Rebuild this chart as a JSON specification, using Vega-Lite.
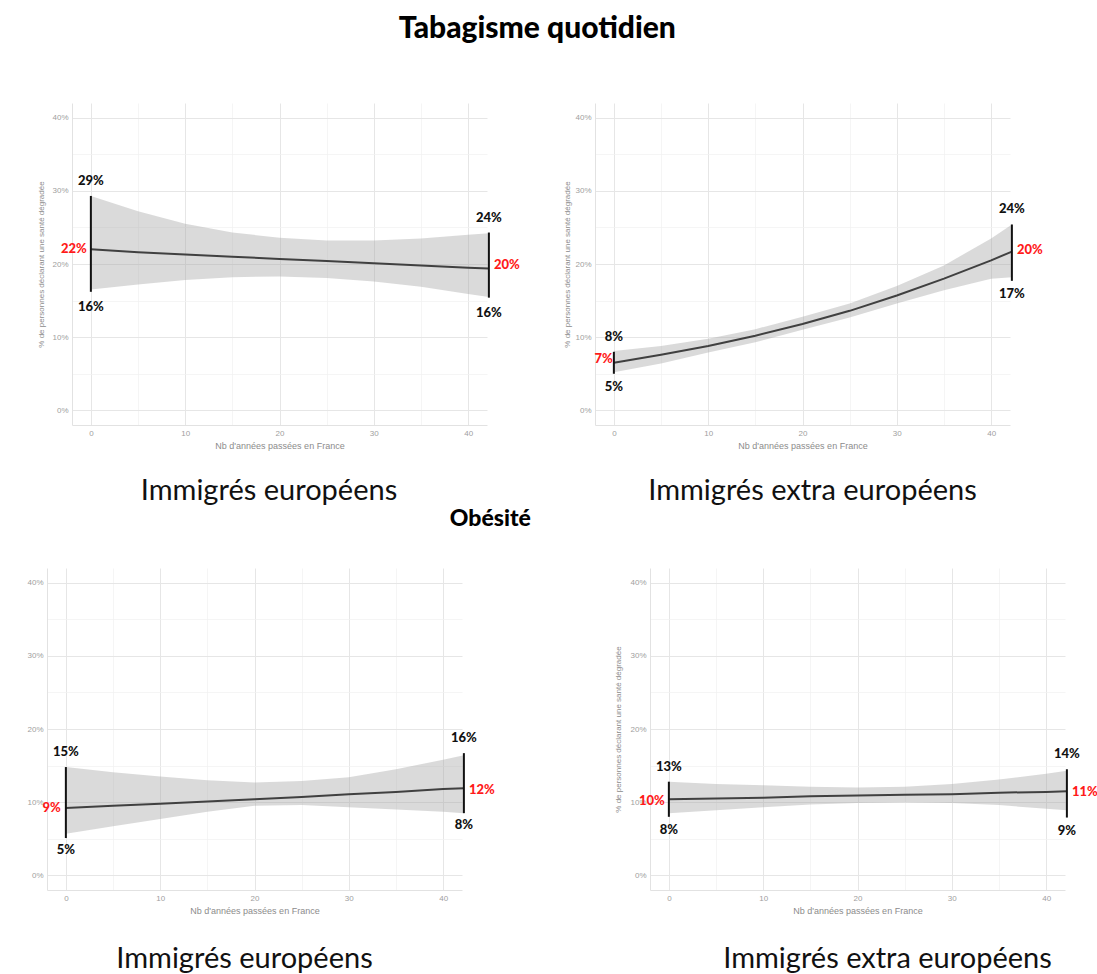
{
  "$schema": "https://vega.github.io/schema/vega-lite/v6.json",
  "background": "white",
  "padding": {"left": 26, "top": 14, "right": 4, "bottom": 4},
  "autosize": {"type": "pad"},
  "title": {"text": "Tabagisme quotidien", "anchor": "middle", "dx": -25, "font": "Lato", "fontSize": 30, "fontWeight": 900, "color": "#000000", "offset": 59},
  "config": {
    "view": {"stroke": null},
    "axis": {"domainColor": "#e2e2e2", "ticks": false, "labelFont": "Liberation Sans", "labelFontSize": 8, "labelColor": "#a0a0a0", "titleFont": "Liberation Sans", "titleFontWeight": "normal", "titleColor": "#8c8c8c", "labelPadding": 4}
  },
  "datasets": {
    "curves": [
      {"panel": "tab_eu", "x": 0, "fit": 22.0, "lo": 16.5, "hi": 29.3},
      {"panel": "tab_eu", "x": 5, "fit": 21.6, "lo": 17.2, "hi": 27.2},
      {"panel": "tab_eu", "x": 10, "fit": 21.3, "lo": 17.8, "hi": 25.5},
      {"panel": "tab_eu", "x": 15, "fit": 21.0, "lo": 18.2, "hi": 24.3},
      {"panel": "tab_eu", "x": 20, "fit": 20.7, "lo": 18.3, "hi": 23.6},
      {"panel": "tab_eu", "x": 25, "fit": 20.4, "lo": 18.1, "hi": 23.2},
      {"panel": "tab_eu", "x": 30, "fit": 20.1, "lo": 17.6, "hi": 23.2},
      {"panel": "tab_eu", "x": 35, "fit": 19.8, "lo": 16.9, "hi": 23.5},
      {"panel": "tab_eu", "x": 40, "fit": 19.5, "lo": 15.9, "hi": 24.0},
      {"panel": "tab_eu", "x": 42.2, "fit": 19.4, "lo": 15.5, "hi": 24.2},
      {"panel": "tab_ext", "x": 0, "fit": 6.5, "lo": 5.2, "hi": 8.1},
      {"panel": "tab_ext", "x": 5, "fit": 7.6, "lo": 6.4, "hi": 8.8},
      {"panel": "tab_ext", "x": 10, "fit": 8.8, "lo": 7.9, "hi": 9.8},
      {"panel": "tab_ext", "x": 15, "fit": 10.2, "lo": 9.3, "hi": 11.1},
      {"panel": "tab_ext", "x": 20, "fit": 11.8, "lo": 11.0, "hi": 12.8},
      {"panel": "tab_ext", "x": 25, "fit": 13.6, "lo": 12.7, "hi": 14.6},
      {"panel": "tab_ext", "x": 30, "fit": 15.7, "lo": 14.6, "hi": 17.0},
      {"panel": "tab_ext", "x": 35, "fit": 18.0, "lo": 16.4, "hi": 19.8},
      {"panel": "tab_ext", "x": 40, "fit": 20.5, "lo": 18.0, "hi": 23.5},
      {"panel": "tab_ext", "x": 42.2, "fit": 21.7, "lo": 18.2, "hi": 25.4},
      {"panel": "ob_eu", "x": 0, "fit": 9.2, "lo": 5.7, "hi": 14.8},
      {"panel": "ob_eu", "x": 5, "fit": 9.5, "lo": 6.7, "hi": 14.1},
      {"panel": "ob_eu", "x": 10, "fit": 9.8, "lo": 7.7, "hi": 13.5},
      {"panel": "ob_eu", "x": 15, "fit": 10.1, "lo": 8.7, "hi": 13.0},
      {"panel": "ob_eu", "x": 20, "fit": 10.4, "lo": 9.5, "hi": 12.7},
      {"panel": "ob_eu", "x": 25, "fit": 10.7, "lo": 9.6, "hi": 12.9},
      {"panel": "ob_eu", "x": 30, "fit": 11.1, "lo": 9.3, "hi": 13.4},
      {"panel": "ob_eu", "x": 35, "fit": 11.4, "lo": 9.0, "hi": 14.5},
      {"panel": "ob_eu", "x": 40, "fit": 11.8, "lo": 8.7, "hi": 15.8},
      {"panel": "ob_eu", "x": 42.2, "fit": 11.9, "lo": 8.5, "hi": 16.4},
      {"panel": "ob_ext", "x": 0, "fit": 10.4, "lo": 8.5, "hi": 12.8},
      {"panel": "ob_ext", "x": 5, "fit": 10.5, "lo": 8.9, "hi": 12.5},
      {"panel": "ob_ext", "x": 10, "fit": 10.6, "lo": 9.3, "hi": 12.3},
      {"panel": "ob_ext", "x": 15, "fit": 10.8, "lo": 9.7, "hi": 12.1},
      {"panel": "ob_ext", "x": 20, "fit": 10.9, "lo": 9.9, "hi": 12.0},
      {"panel": "ob_ext", "x": 25, "fit": 11.0, "lo": 10.0, "hi": 12.1},
      {"panel": "ob_ext", "x": 30, "fit": 11.1, "lo": 9.9, "hi": 12.5},
      {"panel": "ob_ext", "x": 35, "fit": 11.3, "lo": 9.6, "hi": 13.1},
      {"panel": "ob_ext", "x": 40, "fit": 11.4, "lo": 9.1, "hi": 13.9},
      {"panel": "ob_ext", "x": 42.2, "fit": 11.5, "lo": 8.9, "hi": 14.3}
    ],
    "ends": [
      {"panel": "tab_eu", "side": "L", "x": 0, "blo": 16.2, "bhi": 29.3, "mid": 22.0, "tlo": "16%", "thi": "29%", "tmid": "22%"},
      {"panel": "tab_eu", "side": "R", "x": 42.2, "blo": 15.4, "bhi": 24.3, "mid": 19.8, "tlo": "16%", "thi": "24%", "tmid": "20%"},
      {"panel": "tab_ext", "side": "L", "x": 0, "blo": 5.0, "bhi": 8.0, "mid": 7.0, "tlo": "5%", "thi": "8%", "tmid": "7%"},
      {"panel": "tab_ext", "side": "R", "x": 42.2, "blo": 17.7, "bhi": 25.4, "mid": 21.9, "tlo": "17%", "thi": "24%", "tmid": "20%"},
      {"panel": "ob_eu", "side": "L", "x": 0, "blo": 5.1, "bhi": 14.8, "mid": 9.2, "tlo": "5%", "thi": "15%", "tmid": "9%"},
      {"panel": "ob_eu", "side": "R", "x": 42.2, "blo": 8.5, "bhi": 16.7, "mid": 11.7, "tlo": "8%", "thi": "16%", "tmid": "12%"},
      {"panel": "ob_ext", "side": "L", "x": 0, "blo": 8.0, "bhi": 12.8, "mid": 10.2, "tlo": "8%", "thi": "13%", "tmid": "10%"},
      {"panel": "ob_ext", "side": "R", "x": 42.2, "blo": 7.9, "bhi": 14.5, "mid": 11.4, "tlo": "9%", "thi": "14%", "tmid": "11%"}
    ]
  },
  "columns": 1,
  "spacing": 2,
  "concat": [
    {
      "spacing": 43,
      "hconcat": [
        {
          "width": 440, "height": 322,
          "title": {"text": "Immigrés européens", "orient": "bottom", "anchor": "middle", "dx": 2, "offset": 27, "font": "Lato", "fontSize": 29, "fontWeight": "normal", "color": "#111111"},
          "encoding": {"x": {"field": "x", "type": "quantitative", "scale": {"domain": [-2, 42], "range": [25, 440], "nice": false, "zero": false}, "axis": {"values": [0, 5, 10, 15, 20, 25, 30, 35, 40], "labelExpr": "datum.value % 10 === 0 ? datum.label : ''", "title": "Nb d'années passées en France", "titleFontSize": 9, "titlePadding": 4, "gridColor": {"condition": {"test": "datum.value % 10 === 0", "value": "#e6e6e6"}, "value": "#f1f1f1"}, "gridWidth": {"condition": {"test": "datum.value % 10 === 0", "value": 1}, "value": 0.7}}}},
          "layer": [
            {"data": {"name": "curves"}, "transform": [{"filter": "datum.panel === 'tab_eu'"}], "mark": {"type": "area", "color": "#a3a3a3", "opacity": 0.4}, "encoding": {"y": {"field": "lo", "type": "quantitative", "scale": {"domain": [-2, 42], "nice": false, "zero": false}, "axis": {"offset": -25, "values": [0, 5, 10, 15, 20, 25, 30, 35, 40], "labelExpr": "datum.value % 10 === 0 ? datum.value + '%' : ''", "title": "% de personnes déclarant une santé dégradée", "titleFontSize": 8, "titlePadding": 6, "gridColor": {"condition": {"test": "datum.value % 10 === 0", "value": "#e6e6e6"}, "value": "#f1f1f1"}, "gridWidth": {"condition": {"test": "datum.value % 10 === 0", "value": 1}, "value": 0.7}}}, "y2": {"field": "hi"}}},
            {"data": {"name": "curves"}, "transform": [{"filter": "datum.panel === 'tab_eu'"}], "mark": {"type": "line", "color": "#404040", "strokeWidth": 2}, "encoding": {"y": {"field": "fit", "type": "quantitative", "scale": {"domain": [-2, 42], "nice": false, "zero": false}, "axis": {"offset": -25, "values": [0, 5, 10, 15, 20, 25, 30, 35, 40], "labelExpr": "datum.value % 10 === 0 ? datum.value + '%' : ''", "title": "% de personnes déclarant une santé dégradée", "titleFontSize": 8, "titlePadding": 6, "gridColor": {"condition": {"test": "datum.value % 10 === 0", "value": "#e6e6e6"}, "value": "#f1f1f1"}, "gridWidth": {"condition": {"test": "datum.value % 10 === 0", "value": 1}, "value": 0.7}}}}},
            {"data": {"name": "ends"}, "transform": [{"filter": "datum.panel === 'tab_eu'"}], "mark": {"type": "rule", "color": "#111111", "strokeWidth": 2}, "encoding": {"y": {"field": "blo", "type": "quantitative", "scale": {"domain": [-2, 42], "nice": false, "zero": false}, "axis": {"offset": -25, "values": [0, 5, 10, 15, 20, 25, 30, 35, 40], "labelExpr": "datum.value % 10 === 0 ? datum.value + '%' : ''", "title": "% de personnes déclarant une santé dégradée", "titleFontSize": 8, "titlePadding": 6, "gridColor": {"condition": {"test": "datum.value % 10 === 0", "value": "#e6e6e6"}, "value": "#f1f1f1"}, "gridWidth": {"condition": {"test": "datum.value % 10 === 0", "value": 1}, "value": 0.7}}}, "y2": {"field": "bhi"}}},
            {"data": {"name": "ends"}, "transform": [{"filter": "datum.panel === 'tab_eu'"}], "mark": {"type": "text", "dy": -15, "font": "Lato", "fontSize": 13, "fontWeight": 900, "color": "#111111"}, "encoding": {"y": {"field": "bhi", "type": "quantitative", "scale": {"domain": [-2, 42], "nice": false, "zero": false}, "axis": {"offset": -25, "values": [0, 5, 10, 15, 20, 25, 30, 35, 40], "labelExpr": "datum.value % 10 === 0 ? datum.value + '%' : ''", "title": "% de personnes déclarant une santé dégradée", "titleFontSize": 8, "titlePadding": 6, "gridColor": {"condition": {"test": "datum.value % 10 === 0", "value": "#e6e6e6"}, "value": "#f1f1f1"}, "gridWidth": {"condition": {"test": "datum.value % 10 === 0", "value": 1}, "value": 0.7}}}, "text": {"field": "thi"}}},
            {"data": {"name": "ends"}, "transform": [{"filter": "datum.panel === 'tab_eu'"}], "mark": {"type": "text", "dy": 15, "font": "Lato", "fontSize": 13, "fontWeight": 900, "color": "#111111"}, "encoding": {"y": {"field": "blo", "type": "quantitative", "scale": {"domain": [-2, 42], "nice": false, "zero": false}, "axis": {"offset": -25, "values": [0, 5, 10, 15, 20, 25, 30, 35, 40], "labelExpr": "datum.value % 10 === 0 ? datum.value + '%' : ''", "title": "% de personnes déclarant une santé dégradée", "titleFontSize": 8, "titlePadding": 6, "gridColor": {"condition": {"test": "datum.value % 10 === 0", "value": "#e6e6e6"}, "value": "#f1f1f1"}, "gridWidth": {"condition": {"test": "datum.value % 10 === 0", "value": 1}, "value": 0.7}}}, "text": {"field": "tlo"}}},
            {"data": {"name": "ends"}, "transform": [{"filter": "datum.panel === 'tab_eu' && datum.side === 'L'"}], "mark": {"type": "text", "align": "right", "dx": -4, "font": "Lato", "fontSize": 13, "fontWeight": 900, "color": "#ff1a1a"}, "encoding": {"y": {"field": "mid", "type": "quantitative", "scale": {"domain": [-2, 42], "nice": false, "zero": false}, "axis": {"offset": -25, "values": [0, 5, 10, 15, 20, 25, 30, 35, 40], "labelExpr": "datum.value % 10 === 0 ? datum.value + '%' : ''", "title": "% de personnes déclarant une santé dégradée", "titleFontSize": 8, "titlePadding": 6, "gridColor": {"condition": {"test": "datum.value % 10 === 0", "value": "#e6e6e6"}, "value": "#f1f1f1"}, "gridWidth": {"condition": {"test": "datum.value % 10 === 0", "value": 1}, "value": 0.7}}}, "text": {"field": "tmid"}}},
            {"data": {"name": "ends"}, "transform": [{"filter": "datum.panel === 'tab_eu' && datum.side === 'R'"}], "mark": {"type": "text", "align": "left", "dx": 5, "font": "Lato", "fontSize": 13, "fontWeight": 900, "color": "#ff1a1a"}, "encoding": {"y": {"field": "mid", "type": "quantitative", "scale": {"domain": [-2, 42], "nice": false, "zero": false}, "axis": {"offset": -25, "values": [0, 5, 10, 15, 20, 25, 30, 35, 40], "labelExpr": "datum.value % 10 === 0 ? datum.value + '%' : ''", "title": "% de personnes déclarant une santé dégradée", "titleFontSize": 8, "titlePadding": 6, "gridColor": {"condition": {"test": "datum.value % 10 === 0", "value": "#e6e6e6"}, "value": "#f1f1f1"}, "gridWidth": {"condition": {"test": "datum.value % 10 === 0", "value": 1}, "value": 0.7}}}, "text": {"field": "tmid"}}}
          ]
        },
        {
          "width": 415, "height": 322,
          "title": {"text": "Immigrés extra européens", "orient": "bottom", "anchor": "middle", "dx": 10, "offset": 27, "font": "Lato", "fontSize": 29, "fontWeight": "normal", "color": "#111111"},
          "encoding": {"x": {"field": "x", "type": "quantitative", "scale": {"domain": [-2, 42], "nice": false, "zero": false}, "axis": {"values": [0, 5, 10, 15, 20, 25, 30, 35, 40], "labelExpr": "datum.value % 10 === 0 ? datum.label : ''", "title": "Nb d'années passées en France", "titleFontSize": 9, "titlePadding": 4, "gridColor": {"condition": {"test": "datum.value % 10 === 0", "value": "#e6e6e6"}, "value": "#f1f1f1"}, "gridWidth": {"condition": {"test": "datum.value % 10 === 0", "value": 1}, "value": 0.7}}}},
          "layer": [
            {"data": {"name": "curves"}, "transform": [{"filter": "datum.panel === 'tab_ext'"}], "mark": {"type": "area", "color": "#a3a3a3", "opacity": 0.4}, "encoding": {"y": {"field": "lo", "type": "quantitative", "scale": {"domain": [-2, 42], "nice": false, "zero": false}, "axis": {"values": [0, 5, 10, 15, 20, 25, 30, 35, 40], "labelExpr": "datum.value % 10 === 0 ? datum.value + '%' : ''", "title": "% de personnes déclarant une santé dégradée", "titleFontSize": 8, "titlePadding": 3, "gridColor": {"condition": {"test": "datum.value % 10 === 0", "value": "#e6e6e6"}, "value": "#f1f1f1"}, "gridWidth": {"condition": {"test": "datum.value % 10 === 0", "value": 1}, "value": 0.7}}}, "y2": {"field": "hi"}}},
            {"data": {"name": "curves"}, "transform": [{"filter": "datum.panel === 'tab_ext'"}], "mark": {"type": "line", "color": "#404040", "strokeWidth": 2}, "encoding": {"y": {"field": "fit", "type": "quantitative", "scale": {"domain": [-2, 42], "nice": false, "zero": false}, "axis": {"values": [0, 5, 10, 15, 20, 25, 30, 35, 40], "labelExpr": "datum.value % 10 === 0 ? datum.value + '%' : ''", "title": "% de personnes déclarant une santé dégradée", "titleFontSize": 8, "titlePadding": 3, "gridColor": {"condition": {"test": "datum.value % 10 === 0", "value": "#e6e6e6"}, "value": "#f1f1f1"}, "gridWidth": {"condition": {"test": "datum.value % 10 === 0", "value": 1}, "value": 0.7}}}}},
            {"data": {"name": "ends"}, "transform": [{"filter": "datum.panel === 'tab_ext'"}], "mark": {"type": "rule", "color": "#111111", "strokeWidth": 2}, "encoding": {"y": {"field": "blo", "type": "quantitative", "scale": {"domain": [-2, 42], "nice": false, "zero": false}, "axis": {"values": [0, 5, 10, 15, 20, 25, 30, 35, 40], "labelExpr": "datum.value % 10 === 0 ? datum.value + '%' : ''", "title": "% de personnes déclarant une santé dégradée", "titleFontSize": 8, "titlePadding": 3, "gridColor": {"condition": {"test": "datum.value % 10 === 0", "value": "#e6e6e6"}, "value": "#f1f1f1"}, "gridWidth": {"condition": {"test": "datum.value % 10 === 0", "value": 1}, "value": 0.7}}}, "y2": {"field": "bhi"}}},
            {"data": {"name": "ends"}, "transform": [{"filter": "datum.panel === 'tab_ext'"}], "mark": {"type": "text", "dy": -15, "font": "Lato", "fontSize": 13, "fontWeight": 900, "color": "#111111"}, "encoding": {"y": {"field": "bhi", "type": "quantitative", "scale": {"domain": [-2, 42], "nice": false, "zero": false}, "axis": {"values": [0, 5, 10, 15, 20, 25, 30, 35, 40], "labelExpr": "datum.value % 10 === 0 ? datum.value + '%' : ''", "title": "% de personnes déclarant une santé dégradée", "titleFontSize": 8, "titlePadding": 3, "gridColor": {"condition": {"test": "datum.value % 10 === 0", "value": "#e6e6e6"}, "value": "#f1f1f1"}, "gridWidth": {"condition": {"test": "datum.value % 10 === 0", "value": 1}, "value": 0.7}}}, "text": {"field": "thi"}}},
            {"data": {"name": "ends"}, "transform": [{"filter": "datum.panel === 'tab_ext'"}], "mark": {"type": "text", "dy": 13, "font": "Lato", "fontSize": 13, "fontWeight": 900, "color": "#111111"}, "encoding": {"y": {"field": "blo", "type": "quantitative", "scale": {"domain": [-2, 42], "nice": false, "zero": false}, "axis": {"values": [0, 5, 10, 15, 20, 25, 30, 35, 40], "labelExpr": "datum.value % 10 === 0 ? datum.value + '%' : ''", "title": "% de personnes déclarant une santé dégradée", "titleFontSize": 8, "titlePadding": 3, "gridColor": {"condition": {"test": "datum.value % 10 === 0", "value": "#e6e6e6"}, "value": "#f1f1f1"}, "gridWidth": {"condition": {"test": "datum.value % 10 === 0", "value": 1}, "value": 0.7}}}, "text": {"field": "tlo"}}},
            {"data": {"name": "ends"}, "transform": [{"filter": "datum.panel === 'tab_ext' && datum.side === 'L'"}], "mark": {"type": "text", "align": "right", "dx": -1, "font": "Lato", "fontSize": 13, "fontWeight": 900, "color": "#ff1a1a"}, "encoding": {"y": {"field": "mid", "type": "quantitative", "scale": {"domain": [-2, 42], "nice": false, "zero": false}, "axis": {"values": [0, 5, 10, 15, 20, 25, 30, 35, 40], "labelExpr": "datum.value % 10 === 0 ? datum.value + '%' : ''", "title": "% de personnes déclarant une santé dégradée", "titleFontSize": 8, "titlePadding": 3, "gridColor": {"condition": {"test": "datum.value % 10 === 0", "value": "#e6e6e6"}, "value": "#f1f1f1"}, "gridWidth": {"condition": {"test": "datum.value % 10 === 0", "value": 1}, "value": 0.7}}}, "text": {"field": "tmid"}}},
            {"data": {"name": "ends"}, "transform": [{"filter": "datum.panel === 'tab_ext' && datum.side === 'R'"}], "mark": {"type": "text", "align": "left", "dx": 5, "font": "Lato", "fontSize": 13, "fontWeight": 900, "color": "#ff1a1a"}, "encoding": {"y": {"field": "mid", "type": "quantitative", "scale": {"domain": [-2, 42], "nice": false, "zero": false}, "axis": {"values": [0, 5, 10, 15, 20, 25, 30, 35, 40], "labelExpr": "datum.value % 10 === 0 ? datum.value + '%' : ''", "title": "% de personnes déclarant une santé dégradée", "titleFontSize": 8, "titlePadding": 3, "gridColor": {"condition": {"test": "datum.value % 10 === 0", "value": "#e6e6e6"}, "value": "#f1f1f1"}, "gridWidth": {"condition": {"test": "datum.value % 10 === 0", "value": 1}, "value": 0.7}}}, "text": {"field": "tmid"}}}
          ]
        }
      ]
    },
    {
      "spacing": 119,
      "title": {"text": "Obésité", "anchor": "middle", "dx": -72, "font": "Lato", "fontSize": 23, "fontWeight": 900, "color": "#000000", "offset": 37},
      "hconcat": [
        {
          "width": 415, "height": 322,
          "title": {"text": "Immigrés européens", "orient": "bottom", "anchor": "middle", "dx": -10, "offset": 30, "font": "Lato", "fontSize": 29, "fontWeight": "normal", "color": "#111111"},
          "encoding": {"x": {"field": "x", "type": "quantitative", "scale": {"domain": [-2, 42], "nice": false, "zero": false}, "axis": {"values": [0, 5, 10, 15, 20, 25, 30, 35, 40], "labelExpr": "datum.value % 10 === 0 ? datum.label : ''", "title": "Nb d'années passées en France", "titleFontSize": 9, "titlePadding": 4, "gridColor": {"condition": {"test": "datum.value % 10 === 0", "value": "#e6e6e6"}, "value": "#f1f1f1"}, "gridWidth": {"condition": {"test": "datum.value % 10 === 0", "value": 1}, "value": 0.7}}}},
          "layer": [
            {"data": {"name": "curves"}, "transform": [{"filter": "datum.panel === 'ob_eu'"}], "mark": {"type": "area", "color": "#a3a3a3", "opacity": 0.4}, "encoding": {"y": {"field": "lo", "type": "quantitative", "scale": {"domain": [-2, 42], "nice": false, "zero": false}, "axis": {"values": [0, 5, 10, 15, 20, 25, 30, 35, 40], "labelExpr": "datum.value % 10 === 0 ? datum.value + '%' : ''", "title": null, "gridColor": {"condition": {"test": "datum.value % 10 === 0", "value": "#e6e6e6"}, "value": "#f1f1f1"}, "gridWidth": {"condition": {"test": "datum.value % 10 === 0", "value": 1}, "value": 0.7}}}, "y2": {"field": "hi"}}},
            {"data": {"name": "curves"}, "transform": [{"filter": "datum.panel === 'ob_eu'"}], "mark": {"type": "line", "color": "#404040", "strokeWidth": 2}, "encoding": {"y": {"field": "fit", "type": "quantitative", "scale": {"domain": [-2, 42], "nice": false, "zero": false}, "axis": {"values": [0, 5, 10, 15, 20, 25, 30, 35, 40], "labelExpr": "datum.value % 10 === 0 ? datum.value + '%' : ''", "title": null, "gridColor": {"condition": {"test": "datum.value % 10 === 0", "value": "#e6e6e6"}, "value": "#f1f1f1"}, "gridWidth": {"condition": {"test": "datum.value % 10 === 0", "value": 1}, "value": 0.7}}}}},
            {"data": {"name": "ends"}, "transform": [{"filter": "datum.panel === 'ob_eu'"}], "mark": {"type": "rule", "color": "#111111", "strokeWidth": 2}, "encoding": {"y": {"field": "blo", "type": "quantitative", "scale": {"domain": [-2, 42], "nice": false, "zero": false}, "axis": {"values": [0, 5, 10, 15, 20, 25, 30, 35, 40], "labelExpr": "datum.value % 10 === 0 ? datum.value + '%' : ''", "title": null, "gridColor": {"condition": {"test": "datum.value % 10 === 0", "value": "#e6e6e6"}, "value": "#f1f1f1"}, "gridWidth": {"condition": {"test": "datum.value % 10 === 0", "value": 1}, "value": 0.7}}}, "y2": {"field": "bhi"}}},
            {"data": {"name": "ends"}, "transform": [{"filter": "datum.panel === 'ob_eu'"}], "mark": {"type": "text", "dy": -15, "font": "Lato", "fontSize": 13, "fontWeight": 900, "color": "#111111"}, "encoding": {"y": {"field": "bhi", "type": "quantitative", "scale": {"domain": [-2, 42], "nice": false, "zero": false}, "axis": {"values": [0, 5, 10, 15, 20, 25, 30, 35, 40], "labelExpr": "datum.value % 10 === 0 ? datum.value + '%' : ''", "title": null, "gridColor": {"condition": {"test": "datum.value % 10 === 0", "value": "#e6e6e6"}, "value": "#f1f1f1"}, "gridWidth": {"condition": {"test": "datum.value % 10 === 0", "value": 1}, "value": 0.7}}}, "text": {"field": "thi"}}},
            {"data": {"name": "ends"}, "transform": [{"filter": "datum.panel === 'ob_eu'"}], "mark": {"type": "text", "dy": 12, "font": "Lato", "fontSize": 13, "fontWeight": 900, "color": "#111111"}, "encoding": {"y": {"field": "blo", "type": "quantitative", "scale": {"domain": [-2, 42], "nice": false, "zero": false}, "axis": {"values": [0, 5, 10, 15, 20, 25, 30, 35, 40], "labelExpr": "datum.value % 10 === 0 ? datum.value + '%' : ''", "title": null, "gridColor": {"condition": {"test": "datum.value % 10 === 0", "value": "#e6e6e6"}, "value": "#f1f1f1"}, "gridWidth": {"condition": {"test": "datum.value % 10 === 0", "value": 1}, "value": 0.7}}}, "text": {"field": "tlo"}}},
            {"data": {"name": "ends"}, "transform": [{"filter": "datum.panel === 'ob_eu' && datum.side === 'L'"}], "mark": {"type": "text", "align": "right", "dx": -5, "font": "Lato", "fontSize": 13, "fontWeight": 900, "color": "#ff1a1a"}, "encoding": {"y": {"field": "mid", "type": "quantitative", "scale": {"domain": [-2, 42], "nice": false, "zero": false}, "axis": {"values": [0, 5, 10, 15, 20, 25, 30, 35, 40], "labelExpr": "datum.value % 10 === 0 ? datum.value + '%' : ''", "title": null, "gridColor": {"condition": {"test": "datum.value % 10 === 0", "value": "#e6e6e6"}, "value": "#f1f1f1"}, "gridWidth": {"condition": {"test": "datum.value % 10 === 0", "value": 1}, "value": 0.7}}}, "text": {"field": "tmid"}}},
            {"data": {"name": "ends"}, "transform": [{"filter": "datum.panel === 'ob_eu' && datum.side === 'R'"}], "mark": {"type": "text", "align": "left", "dx": 5, "font": "Lato", "fontSize": 13, "fontWeight": 900, "color": "#ff1a1a"}, "encoding": {"y": {"field": "mid", "type": "quantitative", "scale": {"domain": [-2, 42], "nice": false, "zero": false}, "axis": {"values": [0, 5, 10, 15, 20, 25, 30, 35, 40], "labelExpr": "datum.value % 10 === 0 ? datum.value + '%' : ''", "title": null, "gridColor": {"condition": {"test": "datum.value % 10 === 0", "value": "#e6e6e6"}, "value": "#f1f1f1"}, "gridWidth": {"condition": {"test": "datum.value % 10 === 0", "value": 1}, "value": 0.7}}}, "text": {"field": "tmid"}}}
          ]
        },
        {
          "width": 415, "height": 322,
          "title": {"text": "Immigrés extra européens", "orient": "bottom", "anchor": "middle", "dx": 30, "offset": 30, "font": "Lato", "fontSize": 29, "fontWeight": "normal", "color": "#111111"},
          "encoding": {"x": {"field": "x", "type": "quantitative", "scale": {"domain": [-2, 42], "nice": false, "zero": false}, "axis": {"values": [0, 5, 10, 15, 20, 25, 30, 35, 40], "labelExpr": "datum.value % 10 === 0 ? datum.label : ''", "title": "Nb d'années passées en France", "titleFontSize": 9, "titlePadding": 4, "gridColor": {"condition": {"test": "datum.value % 10 === 0", "value": "#e6e6e6"}, "value": "#f1f1f1"}, "gridWidth": {"condition": {"test": "datum.value % 10 === 0", "value": 1}, "value": 0.7}}}},
          "layer": [
            {"data": {"name": "curves"}, "transform": [{"filter": "datum.panel === 'ob_ext'"}], "mark": {"type": "area", "color": "#a3a3a3", "opacity": 0.4}, "encoding": {"y": {"field": "lo", "type": "quantitative", "scale": {"domain": [-2, 42], "nice": false, "zero": false}, "axis": {"values": [0, 5, 10, 15, 20, 25, 30, 35, 40], "labelExpr": "datum.value % 10 === 0 ? datum.value + '%' : ''", "title": "% de personnes déclarant une santé dégradée", "titleFontSize": 8, "titlePadding": 7, "gridColor": {"condition": {"test": "datum.value % 10 === 0", "value": "#e6e6e6"}, "value": "#f1f1f1"}, "gridWidth": {"condition": {"test": "datum.value % 10 === 0", "value": 1}, "value": 0.7}}}, "y2": {"field": "hi"}}},
            {"data": {"name": "curves"}, "transform": [{"filter": "datum.panel === 'ob_ext'"}], "mark": {"type": "line", "color": "#404040", "strokeWidth": 2}, "encoding": {"y": {"field": "fit", "type": "quantitative", "scale": {"domain": [-2, 42], "nice": false, "zero": false}, "axis": {"values": [0, 5, 10, 15, 20, 25, 30, 35, 40], "labelExpr": "datum.value % 10 === 0 ? datum.value + '%' : ''", "title": "% de personnes déclarant une santé dégradée", "titleFontSize": 8, "titlePadding": 7, "gridColor": {"condition": {"test": "datum.value % 10 === 0", "value": "#e6e6e6"}, "value": "#f1f1f1"}, "gridWidth": {"condition": {"test": "datum.value % 10 === 0", "value": 1}, "value": 0.7}}}}},
            {"data": {"name": "ends"}, "transform": [{"filter": "datum.panel === 'ob_ext'"}], "mark": {"type": "rule", "color": "#111111", "strokeWidth": 2}, "encoding": {"y": {"field": "blo", "type": "quantitative", "scale": {"domain": [-2, 42], "nice": false, "zero": false}, "axis": {"values": [0, 5, 10, 15, 20, 25, 30, 35, 40], "labelExpr": "datum.value % 10 === 0 ? datum.value + '%' : ''", "title": "% de personnes déclarant une santé dégradée", "titleFontSize": 8, "titlePadding": 7, "gridColor": {"condition": {"test": "datum.value % 10 === 0", "value": "#e6e6e6"}, "value": "#f1f1f1"}, "gridWidth": {"condition": {"test": "datum.value % 10 === 0", "value": 1}, "value": 0.7}}}, "y2": {"field": "bhi"}}},
            {"data": {"name": "ends"}, "transform": [{"filter": "datum.panel === 'ob_ext'"}], "mark": {"type": "text", "dy": -15, "font": "Lato", "fontSize": 13, "fontWeight": 900, "color": "#111111"}, "encoding": {"y": {"field": "bhi", "type": "quantitative", "scale": {"domain": [-2, 42], "nice": false, "zero": false}, "axis": {"values": [0, 5, 10, 15, 20, 25, 30, 35, 40], "labelExpr": "datum.value % 10 === 0 ? datum.value + '%' : ''", "title": "% de personnes déclarant une santé dégradée", "titleFontSize": 8, "titlePadding": 7, "gridColor": {"condition": {"test": "datum.value % 10 === 0", "value": "#e6e6e6"}, "value": "#f1f1f1"}, "gridWidth": {"condition": {"test": "datum.value % 10 === 0", "value": 1}, "value": 0.7}}}, "text": {"field": "thi"}}},
            {"data": {"name": "ends"}, "transform": [{"filter": "datum.panel === 'ob_ext'"}], "mark": {"type": "text", "dy": 13, "font": "Lato", "fontSize": 13, "fontWeight": 900, "color": "#111111"}, "encoding": {"y": {"field": "blo", "type": "quantitative", "scale": {"domain": [-2, 42], "nice": false, "zero": false}, "axis": {"values": [0, 5, 10, 15, 20, 25, 30, 35, 40], "labelExpr": "datum.value % 10 === 0 ? datum.value + '%' : ''", "title": "% de personnes déclarant une santé dégradée", "titleFontSize": 8, "titlePadding": 7, "gridColor": {"condition": {"test": "datum.value % 10 === 0", "value": "#e6e6e6"}, "value": "#f1f1f1"}, "gridWidth": {"condition": {"test": "datum.value % 10 === 0", "value": 1}, "value": 0.7}}}, "text": {"field": "tlo"}}},
            {"data": {"name": "ends"}, "transform": [{"filter": "datum.panel === 'ob_ext' && datum.side === 'L'"}], "mark": {"type": "text", "align": "right", "dx": -4, "font": "Lato", "fontSize": 13, "fontWeight": 900, "color": "#ff1a1a"}, "encoding": {"y": {"field": "mid", "type": "quantitative", "scale": {"domain": [-2, 42], "nice": false, "zero": false}, "axis": {"values": [0, 5, 10, 15, 20, 25, 30, 35, 40], "labelExpr": "datum.value % 10 === 0 ? datum.value + '%' : ''", "title": "% de personnes déclarant une santé dégradée", "titleFontSize": 8, "titlePadding": 7, "gridColor": {"condition": {"test": "datum.value % 10 === 0", "value": "#e6e6e6"}, "value": "#f1f1f1"}, "gridWidth": {"condition": {"test": "datum.value % 10 === 0", "value": 1}, "value": 0.7}}}, "text": {"field": "tmid"}}},
            {"data": {"name": "ends"}, "transform": [{"filter": "datum.panel === 'ob_ext' && datum.side === 'R'"}], "mark": {"type": "text", "align": "left", "dx": 5, "font": "Lato", "fontSize": 13, "fontWeight": 900, "color": "#ff1a1a"}, "encoding": {"y": {"field": "mid", "type": "quantitative", "scale": {"domain": [-2, 42], "nice": false, "zero": false}, "axis": {"values": [0, 5, 10, 15, 20, 25, 30, 35, 40], "labelExpr": "datum.value % 10 === 0 ? datum.value + '%' : ''", "title": "% de personnes déclarant une santé dégradée", "titleFontSize": 8, "titlePadding": 7, "gridColor": {"condition": {"test": "datum.value % 10 === 0", "value": "#e6e6e6"}, "value": "#f1f1f1"}, "gridWidth": {"condition": {"test": "datum.value % 10 === 0", "value": 1}, "value": 0.7}}}, "text": {"field": "tmid"}}}
          ]
        }
      ]
    }
  ]
}
